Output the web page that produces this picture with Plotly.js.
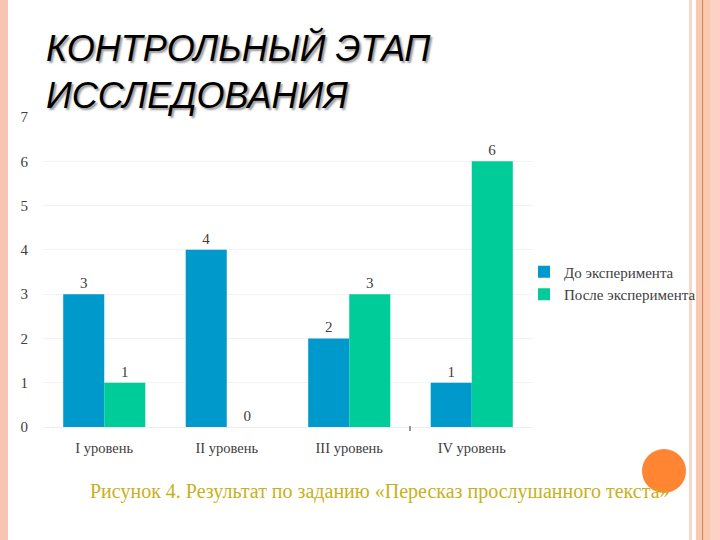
<!DOCTYPE html>
<html>
<head>
<meta charset="utf-8">
<script src="https://cdn.plot.ly/plotly-3.0.1.min.js"></script>
<style>html,body{margin:0;padding:0;background:#fff;}#chart{width:720px;height:540px;}</style>
</head>
<body>
<div id="chart"></div>
<script>
const categories = ["I уровень", "II уровень", "III уровень", "IV уровень"];
const seriesNames = ["До эксперимента", "После эксперимента"];
const before = [3, 4, 2, 1];
const after = [1, 0, 3, 6];
const titleText = "КОНТРОЛЬНЫЙ ЭТАП<br>ИССЛЕДОВАНИЯ";
const captionText = "Рисунок 4. Результат по заданию «Пересказ прослушанного текста»";

const W = 720, H = 540;
const M = {l: 43, r: 187, t: 117, b: 113};
const pw = W - M.l - M.r, ph = H - M.t - M.b;
const px = x => (x - M.l) / pw;
const py = y => (H - M.b - y) / ph;

const serif = "Liberation Serif, Times New Roman, serif";

function rect(x0, x1, color) {
  return {type: 'rect', xref: 'paper', yref: 'paper', layer: 'above',
    x0: px(x0), x1: px(x1), y0: py(H), y1: py(0),
    fillcolor: color, line: {width: 0}};
}

const traces = [
  {type: 'bar', name: seriesNames[0], x: categories, y: before,
   marker: {color: '#0099CC'}, text: before.map(String), textposition: 'outside',
   textfont: {family: serif, size: 15, color: '#404040'}, cliponaxis: false},
  {type: 'bar', name: seriesNames[1], x: categories, y: after,
   marker: {color: '#00CC99'}, text: after.map(String), textposition: 'outside',
   textfont: {family: serif, size: 15, color: '#404040'}, cliponaxis: false}
];

const layout = {
  width: W, height: H,
  margin: {l: M.l, r: M.r, t: M.t, b: M.b, pad: 0},
  paper_bgcolor: '#ffffff', plot_bgcolor: '#ffffff',
  barmode: 'group', bargap: 0.33, bargroupgap: 0,
  showlegend: true,
  legend: {x: px(524), xanchor: 'left', y: py(283), yanchor: 'middle',
    font: {family: serif, size: 15, color: '#404040'},
    itemwidth: 30, tracegroupgap: 0, bgcolor: 'rgba(0,0,0,0)'},
  xaxis: {type: 'category', showgrid: false, zeroline: false, showline: false,
    ticks: 'outside', ticklen: 8, tickcolor: 'rgba(0,0,0,0)',
    tickfont: {family: serif, size: 14.5, color: '#404040'}, fixedrange: true},
  yaxis: {range: [0, 7], dtick: 1, showgrid: true, gridcolor: '#f2f2f2', gridwidth: 1,
    zeroline: true, zerolinecolor: '#eeeeee', showline: false,
    ticks: 'outside', ticklen: 11, tickcolor: 'rgba(0,0,0,0)',
    tickfont: {family: serif, size: 15, color: '#404040'}, fixedrange: true},
  shapes: [
    rect(0, 8, '#F8C4B4'),
    rect(689, 692, '#F7D6CC'),
    rect(696, 702, '#FBC7AE'),
    rect(702, 703.5, '#C98463'),
    rect(703.5, 710, '#FCC8AE'),
    rect(710, 720, '#FDD2C6'),
    {type: 'circle', xref: 'paper', yref: 'paper', layer: 'above',
      x0: px(642), x1: px(686), y0: py(493), y1: py(449),
      fillcolor: '#FF8533', line: {width: 0}},
    {type: 'line', xref: 'paper', yref: 'paper',
      x0: px(410), x1: px(410), y0: py(426), y1: py(431),
      line: {color: '#333333', width: 1}}
  ],
  annotations: [
    {text: titleText, xref: 'paper', yref: 'paper', x: px(44), xanchor: 'left',
      y: py(72), yanchor: 'middle', align: 'left', showarrow: false,
      font: {family: 'Liberation Sans, Arial, sans-serif', size: 36, color: '#000000',
        style: 'italic', shadow: '2px 2px 2px #9a9a9a'}},
    {text: captionText, xref: 'paper', yref: 'paper', x: px(88), xanchor: 'left',
      y: py(491), yanchor: 'middle', showarrow: false,
      font: {family: serif, size: 20, color: '#C8B020'}}
  ]
};

Plotly.newPlot('chart', traces, layout, {displayModeBar: false, staticPlot: true});
</script>
</body>
</html>
